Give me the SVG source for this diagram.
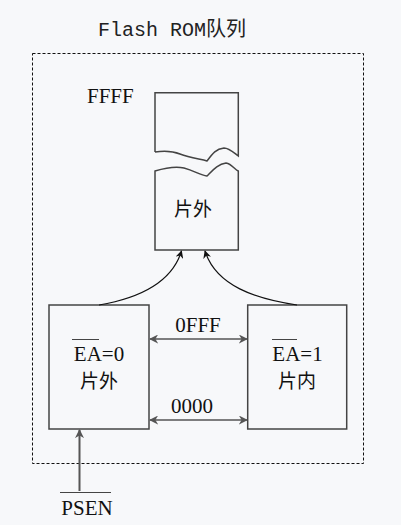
<svg xmlns="http://www.w3.org/2000/svg" width="401" height="525" viewBox="0 0 401 525">
<defs>
<marker id="ab" viewBox="0 0 10 10" refX="9" refY="5" markerWidth="8" markerHeight="8" markerUnits="userSpaceOnUse" orient="auto-start-reverse"><path d="M0,0 L10,5 L0,10 L3,5 z" fill="#111"/></marker>
<marker id="ag" viewBox="0 0 10 10" refX="9" refY="5" markerWidth="9" markerHeight="9" markerUnits="userSpaceOnUse" orient="auto-start-reverse"><path d="M0,0 L10,5 L0,10 L3,5 z" fill="#555"/></marker>
<style>
.box{fill:none;stroke:#444;stroke-width:1.5}
.t{font-family:"Liberation Serif","Noto Sans CJK SC",serif;font-size:21px;fill:#111}
.c{font-family:"Noto Sans CJK SC",serif;font-size:19px;fill:#111}
.ov{stroke:#444;stroke-width:1}
</style>
</defs>
<rect width="401" height="525" fill="#f7f8fa"/>
<text x="98" y="36" style="font-family:'Liberation Mono','Noto Sans CJK SC',monospace;font-size:20px;fill:#222">Flash ROM队列</text>
<rect x="32.5" y="53.5" width="331" height="410" fill="none" stroke="#111" stroke-width="1" stroke-dasharray="3,2"/>
<text class="t" x="87" y="103">FFFF</text>
<g id="top">
<path class="box" d="M155,152 L155,92.7 L238.3,92.7 L238.3,156 C233,152 229,148 224,148 C216,149 213,153 207,161 C200,159 190,158 180,154 C170,150 162,151 155,152"/>
<path class="box" d="M155,171 C165,168 175,166 184,168 C195,171 200,175 207,176 C213,170 218,164 226,163 C232,164 235,170 238.3,171 L238.3,250 L155,250 Z"/>
<text class="c" x="193" y="216" text-anchor="middle">片外</text>
</g>
<g id="left">
<rect class="box" x="49" y="305" width="100" height="124"/>
<line class="ov" x1="72" y1="339.5" x2="99" y2="339.5"/>
<text class="t" x="99" y="361" text-anchor="middle">EA=0</text>
<text class="c" x="99" y="388" text-anchor="middle">片外</text>
</g>
<g id="right">
<rect class="box" x="247.7" y="305" width="99" height="124"/>
<line class="ov" x1="272" y1="339.5" x2="297" y2="339.5"/>
<text class="t" x="297.5" y="361" text-anchor="middle">EA=1</text>
<text class="c" x="297" y="388" text-anchor="middle">片内</text>
</g>
<g id="psen">
<line class="ov" x1="60" y1="492.5" x2="111" y2="492.5"/>
<text class="t" x="87" y="515" text-anchor="middle">PSEN</text>
</g>
<g id="connectors" fill="none">
<path d="M99,305 C140,298 172,282 181.5,251" stroke="#111" stroke-width="1.2" marker-end="url(#ab)"/>
<path d="M297,305 C256,299 216,286 205,251" stroke="#111" stroke-width="1.2" marker-end="url(#ab)"/>
<line x1="150" y1="339" x2="247" y2="339" stroke="#555" stroke-width="1.5" marker-start="url(#ag)" marker-end="url(#ag)"/>
<line x1="150" y1="420" x2="247" y2="420" stroke="#555" stroke-width="1.5" marker-start="url(#ag)" marker-end="url(#ag)"/>
<line x1="79.5" y1="491" x2="79.5" y2="430" stroke="#555" stroke-width="2" marker-end="url(#ag)"/>
<text class="t" x="198" y="332" text-anchor="middle">0FFF</text>
<text class="t" x="192" y="413" text-anchor="middle">0000</text>
</g>
</svg>
